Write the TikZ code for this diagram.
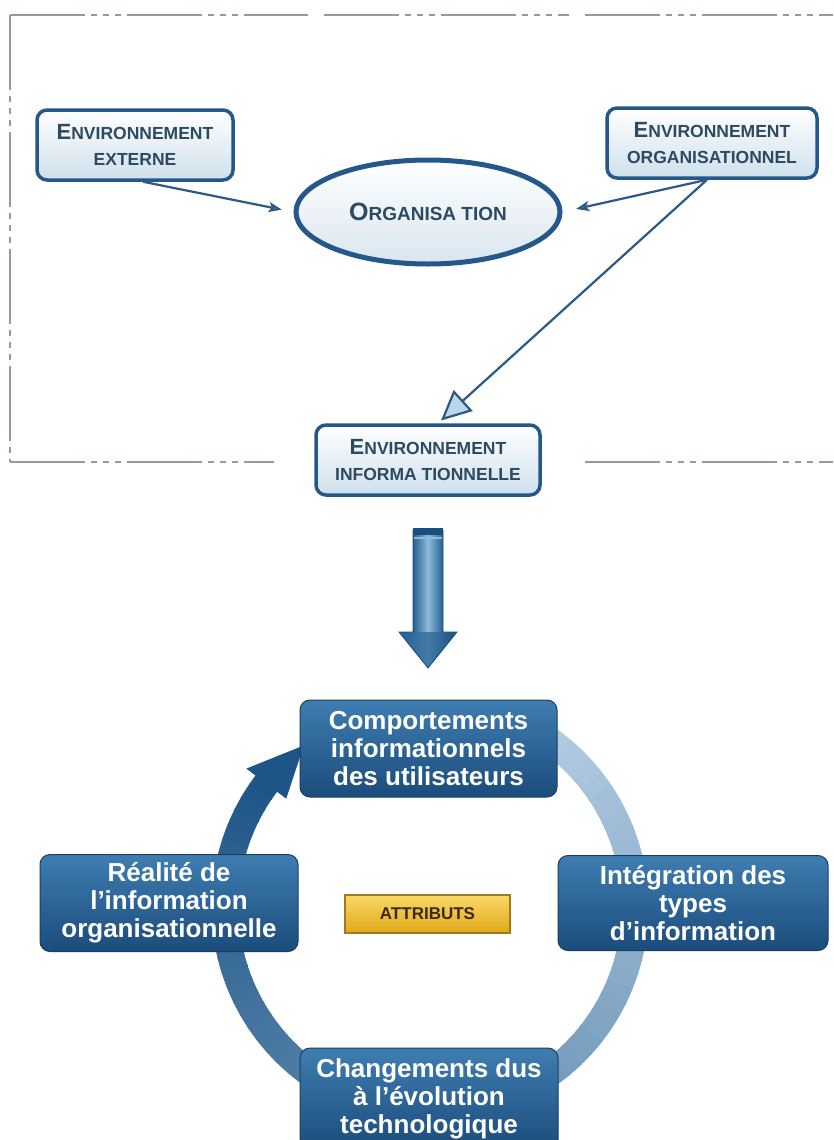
\documentclass[tikz,border=0pt]{standalone}
\usepackage{fontspec}
\setmainfont{Liberation Sans}
\usetikzlibrary{arrows.meta,shapes.geometric,calc}
\definecolor{frameGray}{HTML}{8E9CA4}
\definecolor{envBorder}{HTML}{24588A}
\definecolor{envFill}{HTML}{CFE0EC}
\definecolor{envText}{HTML}{2D4A63}
\definecolor{connCol}{HTML}{2C5A85}
\definecolor{tipFill}{HTML}{BBD6E8}
\definecolor{cycTop}{HTML}{3F7DB1}
\definecolor{cycBot}{HTML}{1B4C7B}
\definecolor{cycBorder}{HTML}{173F66}
\definecolor{ringLight}{HTML}{B3CCE2}
\definecolor{ringDark}{HTML}{1E5587}
\definecolor{goldTop}{HTML}{F8D866}
\definecolor{goldBot}{HTML}{E2A91C}
\definecolor{goldBorder}{HTML}{A07C18}
\definecolor{goldText}{HTML}{3B2B0C}
\definecolor{arrDark}{HTML}{245F92}
\definecolor{arrDeep}{HTML}{1A4E7E}
\definecolor{arrLight}{HTML}{8DBBDB}
\newcommand\mybigcap[1]{{\fontsize{22}{22}\selectfont #1}}
\newcommand\myhugecap[1]{{\fontsize{25}{25}\selectfont #1}}
\begin{document}
\begin{tikzpicture}[x=1pt,y=-1pt,
  framestyle/.style={draw=frameGray, line width=2pt, dash pattern=on 75pt off 6pt on 6pt off 6pt on 6pt off 6pt on 6pt off 6pt},
  envbox/.style={draw=envBorder, line width=3.5pt, rounded corners=10pt, top color=white, bottom color=envFill, align=center, text=envText, font=\fontsize{17.5}{26}\selectfont\bfseries, inner sep=0pt},
  orgell/.style={ellipse, draw=envBorder, line width=5pt, top color=white, bottom color=envFill!80, text=envText, font=\fontsize{19}{19}\selectfont\bfseries, inner sep=0pt},
  conn/.style={draw=connCol, line width=2.2pt},
  smalltip/.style={-{Stealth[length=13pt,width=10pt,inset=3pt,fill=tipFill]}},
  bigtip/.style={-{Triangle[length=30pt,width=28pt,fill=tipFill]}},
  cycbox/.style={draw=cycBorder, line width=1pt, rounded corners=10pt, top color=cycTop, bottom color=cycBot, text=white, align=center, font=\fontsize{26}{28}\selectfont\bfseries, inner sep=0pt},
  goldbox/.style={draw=goldBorder, line width=1.5pt, top color=goldTop, bottom color=goldBot, text=goldText, font=\fontsize{17}{17}\selectfont\bfseries, inner sep=0pt},
  ringseg/.style={line width=27pt, line cap=butt}
]
\useasboundingbox (0,0) rectangle (833,1140);
\fill[white] (0,0) rectangle (833,1140);

% dashed frame
\draw[framestyle] (10,15) -- (308,15);
\draw[framestyle] (324,15) -- (569,15);
\draw[framestyle] (585,15) -- (833,15);
\draw[framestyle] (10,15) -- (10,462);
\draw[framestyle] (10,462) -- (274,462);
\draw[framestyle] (585,462) -- (833,462);

% top part nodes
\node[envbox, minimum width=196pt, minimum height=70pt] (ext) at (135,145) {\mybigcap{E}NVIRONNEMENT\\EXTERNE};
\node[envbox, minimum width=210pt, minimum height=70pt] (org) at (712,143) {\mybigcap{E}NVIRONNEMENT\\ORGANISATIONNEL};
\node[orgell, minimum width=264pt, minimum height=104pt] (orga) at (428,212) {\myhugecap{O}RGANISA TION};
\node[envbox, minimum width=224pt, minimum height=70pt] (info) at (428,460) {\mybigcap{E}NVIRONNEMENT\\INFORMA TIONNELLE};

% connectors
\draw[conn, smalltip, shorten >=12pt] ([xshift=8pt]ext.south) -- (orga.west);
\draw[conn, smalltip, shorten >=14pt] ([xshift=-5pt]org.south) -- (orga.east);
\draw[conn, bigtip, shorten >=4pt] ([xshift=-5pt]org.south) -- ([xshift=10pt]info.north);

% big down arrow
\shade[left color=arrDark, right color=arrDark, middle color=arrLight] (413,530) rectangle (443,634);
\fill[arrDeep] (413,528) rectangle (443,535);
\draw[arrLight, line width=1.2pt] (414,538) -- (442,538);
\shade[left color=arrDark, right color=arrDeep, middle color=arrDark!70!arrLight] (399,632) -- (457,632) -- (428,668) -- cycle;
\draw[arrDeep, line width=0.8pt] (413,530) -- (413,632) -- (399,632) -- (428,668) -- (457,632) -- (443,632) -- (443,530);

% cycle ring
\begin{scope}[shift={(430,907)}, y=1pt]
  \foreach \i in {0,...,69}{
    \pgfmathsetmacro\sa{62-4*\i}
    \pgfmathsetmacro\ea{62-4*\i-4.6}
    \pgfmathtruncatemacro\pc{100*\i/69}
    \draw[ringseg, draw=ringDark!\pc!ringLight] (\sa:205) arc[start angle=\sa, end angle=\ea, radius=205];
  }
  \fill[ringDark] (143:230) -- (128:205) -- (143:180) -- cycle;
\end{scope}

% cycle boxes
\node[cycbox, minimum width=257pt, minimum height=97pt] (comp) at (428.5,748.5) {Comportements\\informationnels\\des utilisateurs};
\node[cycbox, minimum width=258pt, minimum height=97pt] (real) at (169,903) {Réalité de\\l’information\\organisationnelle};
\node[cycbox, minimum width=270pt, minimum height=95pt] (integ) at (693,903) {Intégration des\\types\\d’information};
\node[cycbox, minimum width=258pt, minimum height=102pt] (chg) at (429,1099) {Changements dus\\à l’évolution\\technologique};
\node[goldbox, minimum width=165pt, minimum height=38pt] (attr) at (427.5,914) {ATTRIBUTS};
\end{tikzpicture}
\end{document}
